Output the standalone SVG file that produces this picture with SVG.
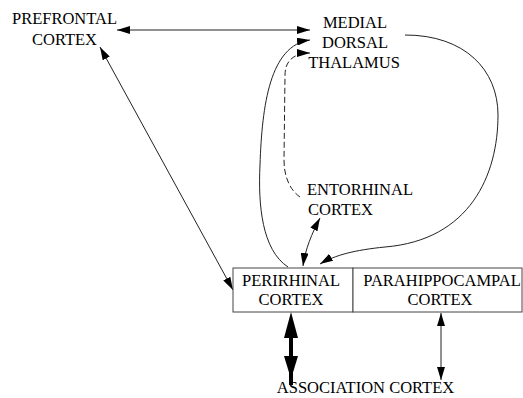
<svg xmlns="http://www.w3.org/2000/svg" width="523" height="398" viewBox="0 0 523 398">
<defs>
<style>
text{font-family:"Liberation Serif","Times New Roman",serif;font-size:16.5px;fill:#000}
.c{text-anchor:middle}
.ln{fill:none;stroke:#222;stroke-width:1}
.box{fill:#fff;stroke:#444;stroke-width:1}
</style>
<marker id="ah" markerUnits="userSpaceOnUse" markerWidth="14" markerHeight="8" refX="13" refY="4" orient="auto-start-reverse">
<path d="M0,0 L13,4 L0,8 Z" fill="#000"/>
</marker>
</defs>
<rect width="523" height="398" fill="#fff"/>
<g id="connectors">
<line class="ln" x1="117" y1="30" x2="310" y2="30" marker-start="url(#ah)" marker-end="url(#ah)"/>
<line class="ln" x1="100" y1="47" x2="233" y2="290" marker-start="url(#ah)" marker-end="url(#ah)"/>
<path class="ln" stroke-width="1.8" d="M288,267 C262,250 258,205 260,165 C262,105 270,45 310,40" marker-end="url(#ah)"/>
<path class="ln" stroke-dasharray="6,3" d="M300,197 C290,190 284,177 284,160 L285,75 C285,60 295,53 310,53" marker-end="url(#ah)"/>
<path class="ln" d="M405,35 C465,35 498,70 498,115 C498,175 470,240 385,247 C355,250 335,255 320,264" marker-end="url(#ah)"/>
<path class="ln" d="M320,218 C312,233 305,250 303,266" marker-start="url(#ah)" marker-end="url(#ah)"/>
<line class="ln" x1="441" y1="313" x2="441" y2="380" marker-start="url(#ah)" marker-end="url(#ah)"/>
<line x1="291" y1="330" x2="291" y2="385" stroke="#000" stroke-width="4"/>
<path d="M291,312 L298,338 L284,338 Z" fill="#000"/>
<path d="M291,379 L298,356 L284,356 Z" fill="#000"/>
</g>
<g id="prefrontal">
<text class="c" x="64.5" y="24">PREFRONTAL</text>
<text class="c" x="64.5" y="45">CORTEX</text>
</g>
<g id="thalamus">
<text class="c" x="355" y="28">MEDIAL</text>
<text class="c" x="355" y="48">DORSAL</text>
<text class="c" x="354" y="68">THALAMUS</text>
</g>
<g id="entorhinal">
<text x="307" y="195">ENTORHINAL</text>
<text x="308" y="215">CORTEX</text>
</g>
<g id="perirhinal">
<rect class="box" x="233" y="268" width="120" height="44"/>
<text class="c" x="291" y="286">PERIRHINAL</text>
<text class="c" x="291" y="305">CORTEX</text>
</g>
<g id="parahippocampal">
<rect class="box" x="353" y="268" width="169" height="44"/>
<text class="c" x="442" y="286">PARAHIPPOCAMPAL</text>
<text class="c" x="440" y="305">CORTEX</text>
</g>
<g id="association">
<text class="c" x="365.5" y="393">ASSOCIATION CORTEX</text>
</g>
</svg>
